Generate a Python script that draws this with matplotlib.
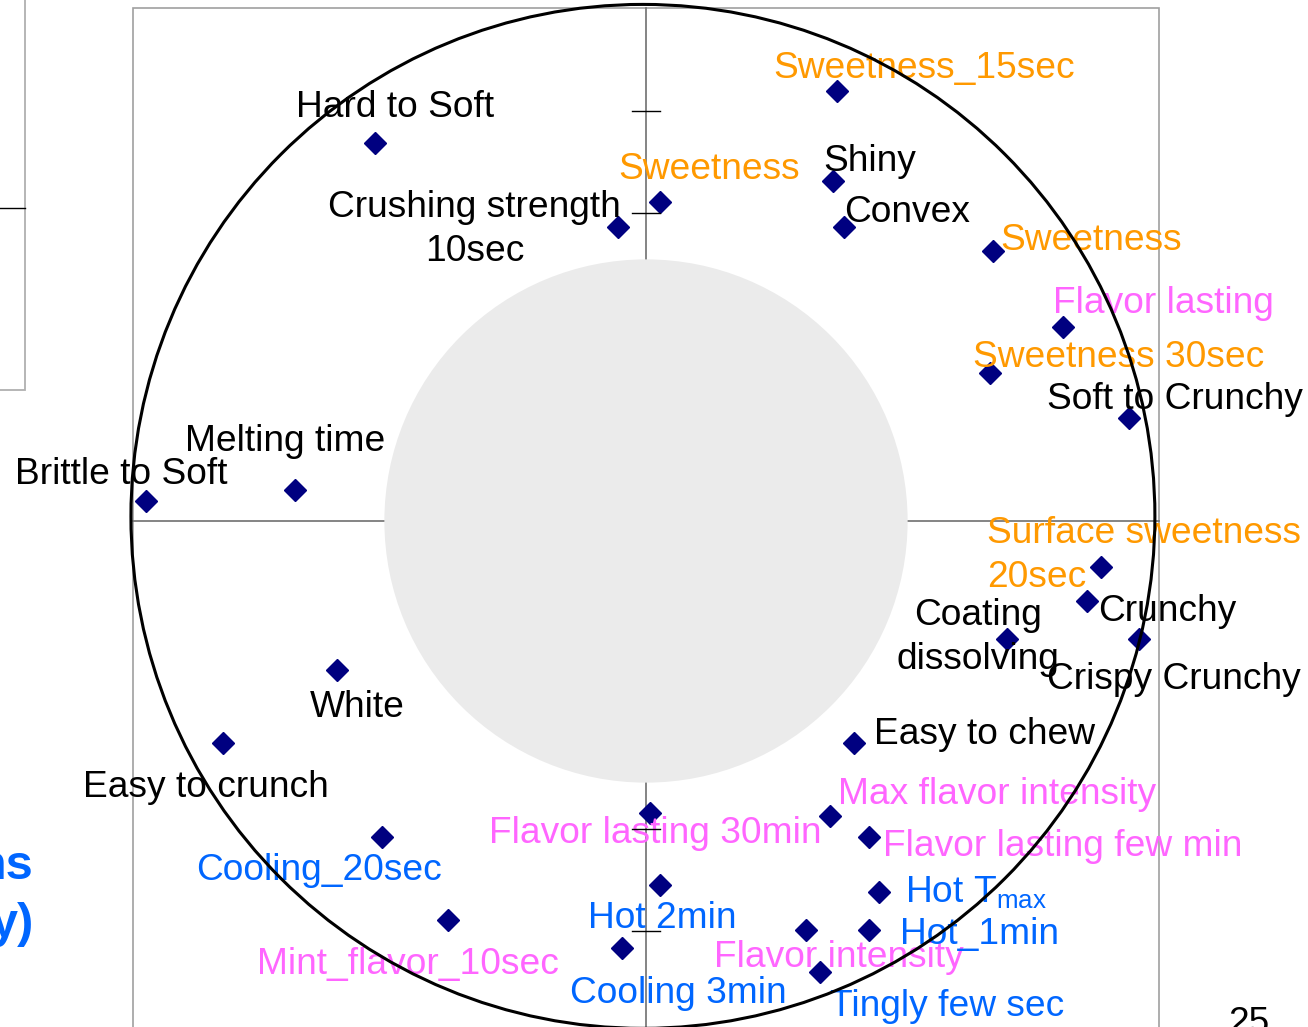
import matplotlib
matplotlib.use("Agg")
import matplotlib.pyplot as plt
from matplotlib.patches import Circle, Rectangle

plt.rcParams['font.family'] = ['Liberation Sans', 'DejaVu Sans']
plt.rcParams['mathtext.fontset'] = 'custom'
plt.rcParams['mathtext.rm'] = 'Liberation Sans'
plt.rcParams['mathtext.it'] = 'Liberation Sans:italic'
plt.rcParams['mathtext.bf'] = 'Liberation Sans:bold'

# ---------------- data (correlation-circle coordinates) ----------------
labels = [
    "Sweetness_15sec", "Hard to Soft", "Shiny", "Sweetness", "Convex",
    "Crushing strength\n10sec", "Sweetness", "Flavor lasting", "Sweetness 30sec",
    "Soft to Crunchy", "Melting time", "Brittle to Soft", "Surface sweetness\n20sec",
    "Crunchy", "Coating\ndissolving", "Crispy Crunchy", "White", "Easy to chew",
    "Easy to crunch", "Max flavor intensity", "Flavor lasting 30min",
    "Flavor lasting few min", "Cooling_20sec", "Hot 2min", r"Hot T$_{\mathrm{max}}$",
    "Mint_flavor_10sec", "Flavor intensity", "Hot_1min", "Cooling 3min", "Tingly few sec",
]
x_vals = [0.372, -0.528, 0.365, 0.027, 0.386, -0.055, 0.676, 0.813, 0.671, 0.942,
          -0.684, -0.975, 0.887, 0.860, 0.704, 0.961, -0.602, 0.405, -0.825, 0.359,
          0.008, 0.435, -0.515, 0.027, 0.454, -0.386, 0.312, 0.435, -0.047, 0.339]
y_vals = [0.838, 0.737, 0.663, 0.622, 0.573, 0.573, 0.526, 0.378, 0.288, 0.201,
          0.060, 0.039, -0.090, -0.156, -0.230, -0.230, -0.290, -0.433, -0.433, -0.575,
          -0.569, -0.616, -0.616, -0.710, -0.723, -0.778, -0.797, -0.797, -0.832, -0.879]
groups = ["sweet", "texture", "texture", "sweet", "texture",
          "texture", "sweet", "flavor", "sweet", "texture",
          "texture", "texture", "sweet", "texture", "texture",
          "texture", "texture", "texture", "texture", "flavor",
          "flavor", "flavor", "cool", "cool", "cool",
          "flavor", "flavor", "cool", "cool", "cool"]
y_ticks = [0.6, 0.8, -0.6, -0.8]

# ---------------- styles / layout ----------------
group_colors = {"texture": "black", "sweet": "#FF9900", "flavor": "#FF66FF", "cool": "#0066FF"}
# label offsets in pixels (dx to anchor, dy to first baseline), horizontal alignment
label_offsets = [(-64, 13), (-79, 26), (-10, 10), (-42, 23), (0, 5),
                 (-143, 10), (8, 1), (-10, 14), (-17, 6), (-82, 9),
                 (-110, 39), (-131, 17), (-114, 24), (11, -20), (-29, 14),
                 (-92, -50), (-27, -47), (20, -1), (-140, -54), (8, 12),
                 (-161, -30), (14, -19), (-186, -43), (-72, -43), (26, -10),
                 (-191, -54), (-92, -37), (31, -14), (-52, -55), (10, -44)]
label_ha = ["left"] * len(labels)
label_ha[5] = "center"
label_ha[14] = "center"
LINE_GAP = 44
FS = 26.7

W, H = 1308, 1027
CX, CY, R = 646, 521, 513
fig = plt.figure(figsize=(W / 100, H / 100), dpi=100)
ax = fig.add_axes([0, 0, 1, 1])
ax.set_xlim(-CX / R, (W - CX) / R)
ax.set_ylim((CY - H) / R, CY / R)
ax.axis("off")

# frame
ax.add_patch(Rectangle((-1.0, -1.3), 2.0, 2.3, fill=False, ec="#a0a0a0", lw=1.2, zorder=1))
# axis lines
ax.plot([-1.0, 1.0], [0, 0], color="#707070", lw=1.2, zorder=1)
ax.plot([0, 0], [-1.3, 1.0], color="#707070", lw=1.2, zorder=1)
# inner disk
ax.add_patch(Circle((0, 0), 0.51, color="#ebebeb", ec="none", zorder=2))
# ticks
for t in y_ticks:
    ax.plot([-0.027, 0.027], [t, t], color="black", lw=1.0, zorder=5)

# points
ax.plot(x_vals, y_vals, linestyle="none", marker="D", color="#000080",
        markersize=11.5, zorder=3)

# labels
for lab, x, y, g, (dx, dy), ha in zip(labels, x_vals, y_vals, groups, label_offsets, label_ha):
    for i, line in enumerate(lab.split("\n")):
        ax.annotate(line, (x, y), xytext=(dx, dy - i * LINE_GAP), textcoords="offset pixels",
                    ha=ha, va="baseline", fontsize=FS, color=group_colors[g], zorder=4)

# outer circle (slightly off-centre as in the original slide)
ax.add_patch(Circle((-0.006, 0.009), 0.998, fill=False, ec="black", lw=2.2, zorder=6))

# slide decorations (partial neighbouring elements)
fig.add_artist(Rectangle((-10 / W, 1 - 390 / H), 35 / W, 400 / H, transform=fig.transFigure,
                         fill=False, ec="#b0b0b0", lw=1.3))
fig.add_artist(plt.Line2D([0, 25 / W], [1 - 208 / H, 1 - 208 / H], transform=fig.transFigure,
                          color="black", lw=1.0))
fig.text(34 / W, 1 - 879 / H, "ns", ha="right", va="baseline", fontsize=35,
         fontweight="bold", color="#0066FF")
fig.text(34 / W, 1 - 937 / H, "y)", ha="right", va="baseline", fontsize=35,
         fontweight="bold", color="#0066FF")
fig.text(1228 / W, 1 - 1033 / H, "25", ha="left", va="baseline", fontsize=FS, color="black")

fig.savefig("out.png", dpi=100)
